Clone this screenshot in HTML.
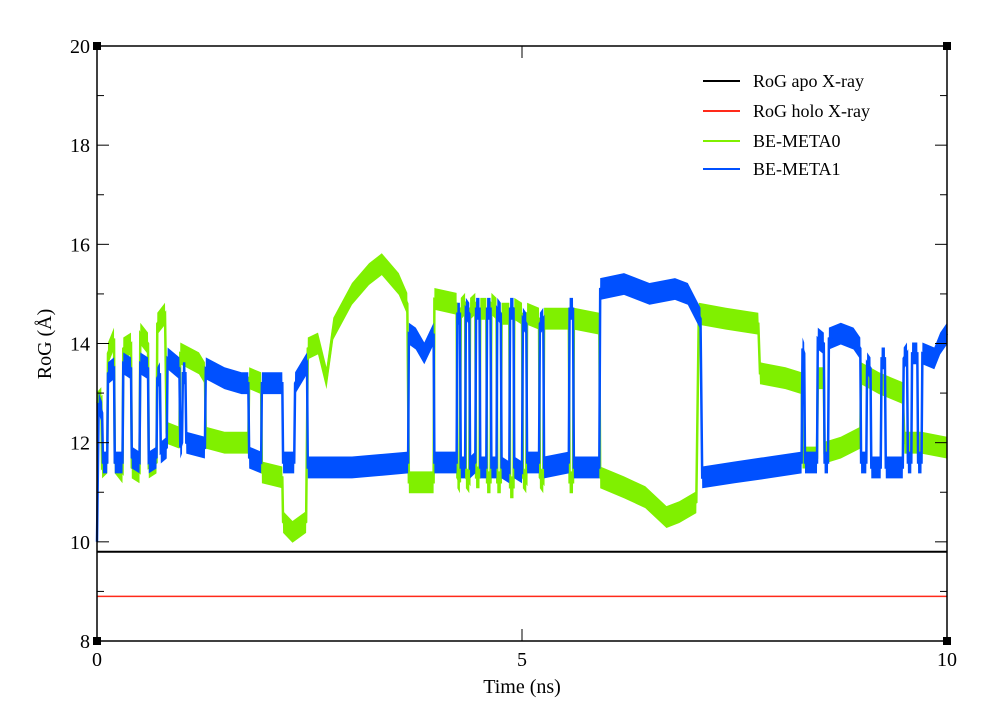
<!DOCTYPE html>
<html><head><meta charset="utf-8">
<style>
html,body{margin:0;padding:0;background:#fff;}
svg{display:block;font-family:"Liberation Serif",serif;}
</style></head>
<body>
<svg id="chart" width="999" height="704" viewBox="0 0 999 704" xmlns="http://www.w3.org/2000/svg"></svg>
<script>
const xTicks = [0, 5, 10];
const xTickLabels = ["0", "5", "10"];
const yTicks = [8, 10, 12, 14, 16, 18, 20];
const yTickLabels = ["8", "10", "12", "14", "16", "18", "20"];
const yMinorTicks = [9, 11, 13, 15, 17, 19];
const apoXray = 9.8;
const holoXray = 8.9;
const meta0Times = [0,0.05,0.06,0.12,0.13,0.2,0.21,0.3,0.31,0.4,0.41,0.5,0.51,0.6,0.61,0.7,0.71,0.8,0.82,0.97,0.98,1.2,1.27,1.28,1.5,1.78,1.79,1.93,1.94,2.18,2.19,2.3,2.46,2.48,2.6,2.7,2.78,3.0,3.2,3.35,3.55,3.65,3.67,3.96,3.97,4.23,4.24,4.27,4.28,4.33,4.34,4.38,4.39,4.45,4.46,4.5,4.51,4.58,4.59,4.63,4.64,4.7,4.71,4.75,4.76,4.85,4.86,4.9,4.91,5.0,5.01,5.05,5.06,5.2,5.21,5.25,5.26,5.55,5.56,5.6,5.61,5.91,5.92,6.2,6.45,6.7,6.85,7.05,7.08,7.4,7.78,7.8,8.1,8.29,8.3,8.47,8.48,8.55,8.56,8.75,8.98,8.99,9.2,9.48,9.5,9.7,10];
const meta0Values = [12.8,12.9,11.5,11.6,13.8,14.1,11.6,11.4,13.9,14.0,11.5,11.4,14.2,14.0,11.5,11.6,14.4,14.6,12.2,12.1,13.8,13.6,13.4,12.1,12.0,12.0,13.3,13.2,11.4,11.3,10.4,10.2,10.4,13.9,14.0,13.3,14.3,15.0,15.4,15.6,15.2,14.8,11.2,11.2,14.9,14.8,11.3,11.2,14.7,14.8,11.3,11.2,14.7,14.8,11.3,11.3,14.7,14.7,11.2,11.2,14.8,14.7,11.2,11.2,14.6,14.6,11.1,11.1,14.7,14.6,11.3,11.2,14.6,14.5,11.3,11.2,14.5,14.5,11.2,11.2,14.5,14.4,11.3,11.1,10.9,10.5,10.6,10.8,14.6,14.5,14.4,13.4,13.3,13.2,11.7,11.7,13.3,13.3,11.8,11.9,12.1,13.4,13.2,13.0,12.0,12.0,11.9];
const meta1Times = [0,0.02,0.06,0.07,0.12,0.13,0.2,0.21,0.3,0.31,0.4,0.41,0.5,0.51,0.6,0.61,0.7,0.71,0.74,0.75,0.82,0.83,0.97,0.98,1.0,1.01,1.04,1.05,1.27,1.28,1.5,1.7,1.78,1.79,1.93,1.94,2.18,2.19,2.32,2.33,2.47,2.48,3.0,3.66,3.67,3.75,3.85,3.96,3.97,4.23,4.24,4.27,4.28,4.33,4.34,4.38,4.39,4.45,4.46,4.5,4.51,4.58,4.59,4.63,4.64,4.7,4.71,4.75,4.76,4.85,4.86,4.9,4.91,5.0,5.01,5.05,5.06,5.2,5.21,5.25,5.26,5.55,5.56,5.6,5.61,5.91,5.92,6.2,6.5,6.8,6.95,7.1,7.12,7.5,7.9,8.29,8.3,8.32,8.33,8.47,8.48,8.55,8.56,8.6,8.61,8.75,8.9,8.98,8.99,9.05,9.06,9.1,9.11,9.22,9.23,9.27,9.28,9.48,9.49,9.53,9.54,9.58,9.59,9.65,9.66,9.7,9.71,9.85,9.92,10];
const meta1Values = [10,12.8,12.6,11.6,11.6,13.4,13.5,11.6,11.6,13.6,13.5,11.7,11.6,13.6,13.5,11.6,11.7,13.3,13.4,11.8,11.9,13.7,13.5,11.9,12.0,13.4,13.4,12.0,11.9,13.5,13.3,13.2,13.2,11.7,11.6,13.2,13.2,11.6,11.6,13.2,13.6,11.5,11.5,11.6,14.2,14.1,13.8,14.2,11.6,11.6,14.6,14.6,11.5,11.5,14.7,14.6,11.5,11.6,14.7,14.7,11.5,11.5,14.7,14.7,11.5,11.5,14.7,14.6,11.5,11.4,14.7,14.7,11.5,11.4,14.5,14.4,11.6,11.6,14.4,14.5,11.5,11.6,14.7,14.7,11.5,11.5,15.1,15.2,15.0,15.1,15.0,14.5,11.3,11.4,11.5,11.6,13.9,13.8,11.6,11.6,14.1,14.0,11.6,11.6,14.1,14.2,14.1,13.9,11.6,11.6,13.6,13.5,11.5,11.5,13.7,13.7,11.5,11.5,13.7,13.8,11.6,11.6,13.8,13.8,11.6,11.6,13.8,13.7,14.0,14.2];
const legendLabels = ["RoG apo X-ray", "RoG holo X-ray", "BE-META0", "BE-META1"];
const legendColors = ["#000000", "#ff2a1a", "#80f000", "#0050ff"];

const NS = "http://www.w3.org/2000/svg";
const svg = document.getElementById("chart");
const X0 = 97, X1 = 947, Y0 = 641, Y1 = 46;
const xMin = 0, xMax = 10, yMin = 8, yMax = 20;
function sx(t){ return X0 + (t - xMin) / (xMax - xMin) * (X1 - X0); }
function sy(v){ return Y0 - (v - yMin) / (yMax - yMin) * (Y0 - Y1); }
function mk(tag, attrs){ const e = document.createElementNS(NS, tag); for (const k in attrs) e.setAttribute(k, attrs[k]); svg.appendChild(e); return e; }

// reference lines
let e = mk("line", {x1: sx(0), x2: sx(10), y1: sy(apoXray), y2: sy(apoXray), stroke: "#000", "stroke-width": 2});


e = mk("line", {x1: sx(0), x2: sx(10), y1: sy(holoXray), y2: sy(holoXray), stroke: "#ff2a1a", "stroke-width": 1.5});



function series(times, values, color, name){
  const h = 0.22;
  let up = [], dn = [], ln = [];
  for (let i = 0; i < times.length; i++){
    up.push(sx(times[i]).toFixed(1) + "," + sy(values[i] + h).toFixed(1));
    dn.unshift(sx(times[i]).toFixed(1) + "," + sy(values[i] - h).toFixed(1));
    ln.push(sx(times[i]).toFixed(1) + "," + sy(values[i]).toFixed(1));
  }
  const g = mk("g", {});
  
  
  const p = document.createElementNS(NS, "polygon");
  p.setAttribute("points", up.concat(dn).join(" "));
  p.setAttribute("fill", color);
  
  
  g.appendChild(p);
  const l = document.createElementNS(NS, "polyline");
  l.setAttribute("points", ln.join(" "));
  l.setAttribute("fill", "none");
  l.setAttribute("stroke", color);
  l.setAttribute("stroke-width", "2.5");
  
  
  g.appendChild(l);
}
series(meta0Times, meta0Values, "#80f000", "be-meta0-series");
series(meta1Times, meta1Values, "#0050ff", "be-meta1-series");

// frame
e = mk("rect", {x: X0, y: Y1, width: X1 - X0, height: Y0 - Y1, fill: "none", stroke: "#000", "stroke-width": 1.5});


[[X0, Y1], [X1, Y1], [X0, Y0], [X1, Y0]].forEach(c => {
  const r = mk("rect", {x: c[0] - 4, y: c[1] - 4, width: 8, height: 8, fill: "#000"});
  
  
});

// y ticks
yTicks.forEach((v, i) => {
  const a = mk("line", {x1: X0, x2: X0 + 12, y1: sy(v), y2: sy(v), stroke: "#000", "stroke-width": 1});
  
  
  const b = mk("line", {x1: X1 - 12, x2: X1, y1: sy(v), y2: sy(v), stroke: "#000", "stroke-width": 1});
  
  
  const t = mk("text", {x: X0 - 7, y: sy(v) + 7, "text-anchor": "end", "font-size": 20});
  t.textContent = yTickLabels[i];
  
  
});
yMinorTicks.forEach(v => {
  const a = mk("line", {x1: X0, x2: X0 + 7, y1: sy(v), y2: sy(v), stroke: "#000", "stroke-width": 1});
  
  
  const b = mk("line", {x1: X1 - 7, x2: X1, y1: sy(v), y2: sy(v), stroke: "#000", "stroke-width": 1});
  
  
});
// x ticks
xTicks.forEach((v, i) => {
  const a = mk("line", {x1: sx(v), x2: sx(v), y1: Y0, y2: Y0 - 12, stroke: "#000", "stroke-width": 1});
  
  
  const b = mk("line", {x1: sx(v), x2: sx(v), y1: Y1, y2: Y1 + 12, stroke: "#000", "stroke-width": 1});
  
  
  const t = mk("text", {x: sx(v), y: Y0 + 25, "text-anchor": "middle", "font-size": 20});
  t.textContent = xTickLabels[i];
  
  
});
// axis titles
e = mk("text", {x: 522, y: 693, "text-anchor": "middle", "font-size": 20});
e.textContent = "Time (ns)";


e = mk("text", {x: 0, y: 0, "text-anchor": "middle", "font-size": 20, transform: "translate(51,344) rotate(-90)"});
e.textContent = "RoG (Å)";



// legend
const legendY = [81, 111, 141, 169];
legendLabels.forEach((lab, i) => {
  const g = mk("g", {});
  
  
  const l = document.createElementNS(NS, "line");
  l.setAttribute("x1", 703); l.setAttribute("x2", 740);
  l.setAttribute("y1", legendY[i]); l.setAttribute("y2", legendY[i]);
  l.setAttribute("stroke", legendColors[i]); l.setAttribute("stroke-width", 2);
  
  
  g.appendChild(l);
  const t = document.createElementNS(NS, "text");
  t.setAttribute("x", 753); t.setAttribute("y", legendY[i] + 6);
  t.setAttribute("font-size", 18);
  t.textContent = lab;
  
  
  g.appendChild(t);
});
</script>
</body></html>
